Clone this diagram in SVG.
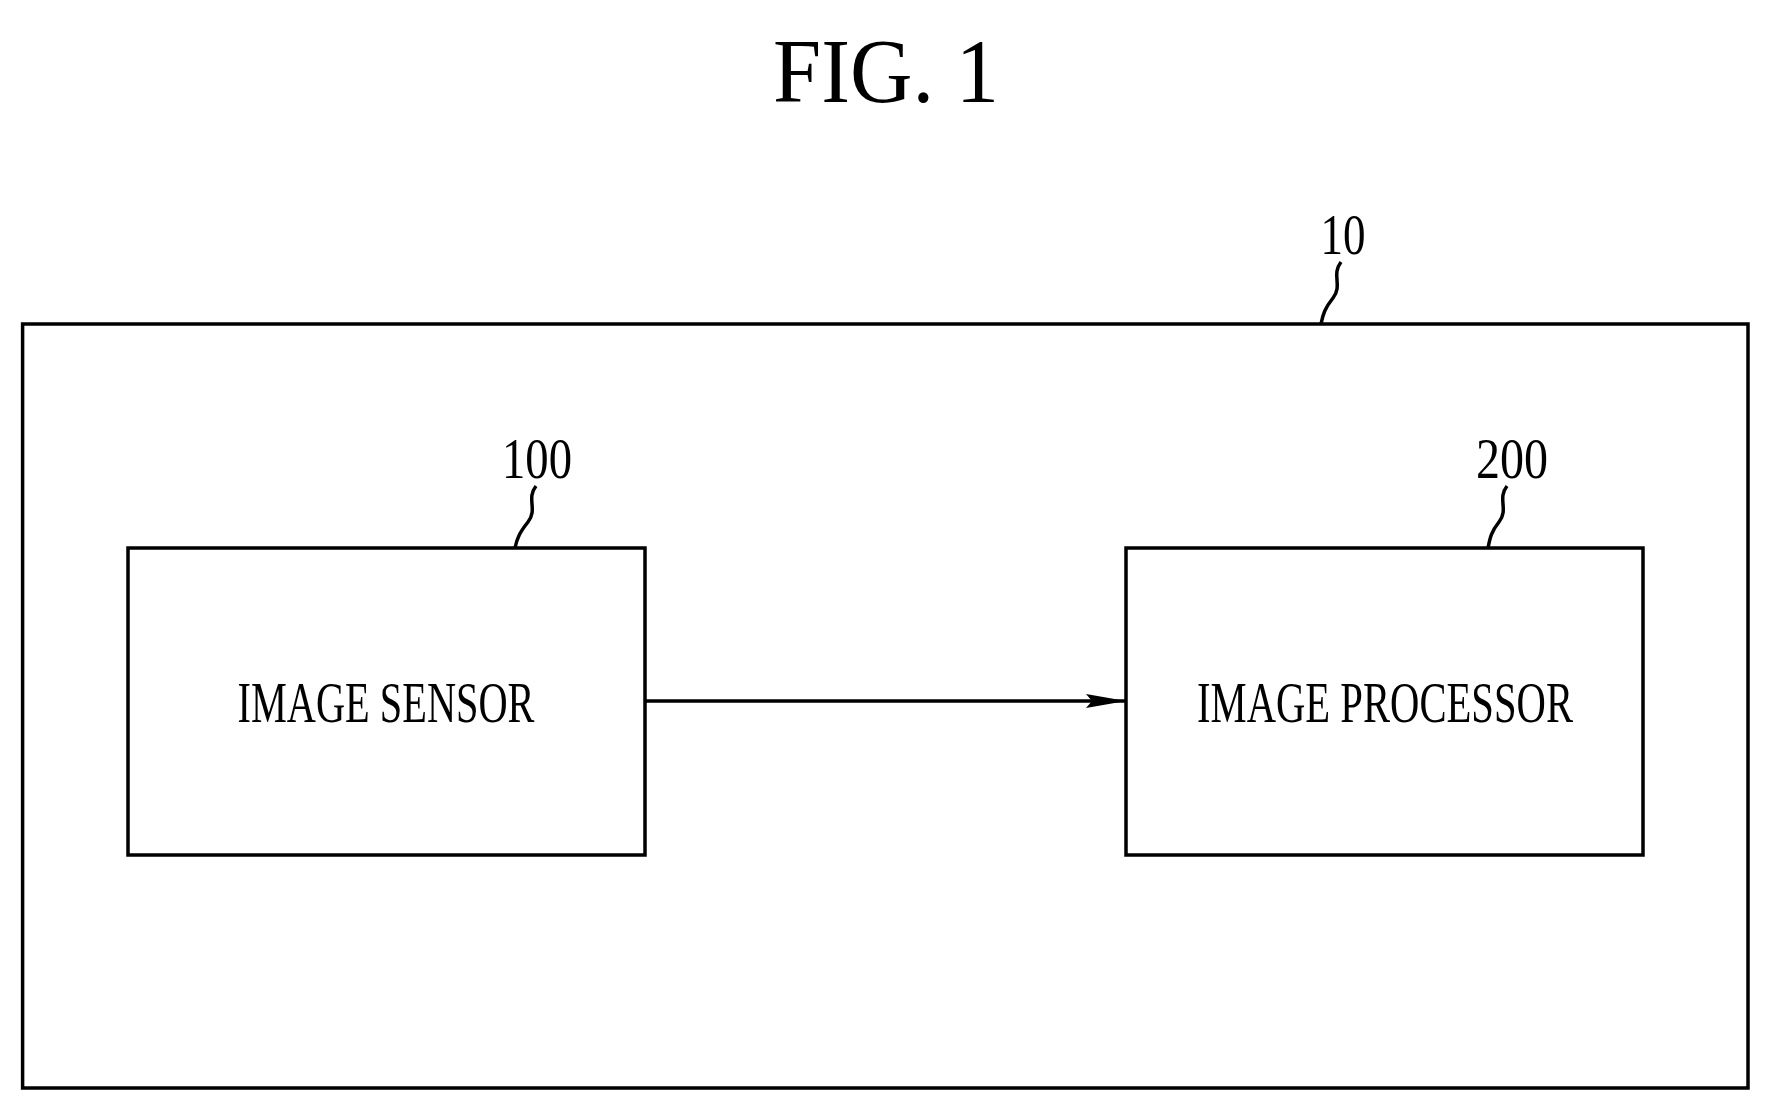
<svg xmlns="http://www.w3.org/2000/svg" width="1771" height="1111" viewBox="0 0 1771 1111">
<style>
.b{fill:none;stroke:#000;stroke-width:3.5}
.t{font-family:"Liberation Serif",serif;fill:#000}
</style>
<defs><marker id="a" markerWidth="12" markerHeight="8" refX="12" refY="4" orient="auto" markerUnits="userSpaceOnUse"><path d="M0,0 L12,4 L0,8 Z" transform="scale(3.3,1.3) translate(-8.4,-0.9)"/></marker>
<marker id="ah" viewBox="0 0 40 14" markerWidth="40" markerHeight="14" refX="40" refY="7" orient="auto" markerUnits="userSpaceOnUse"><path d="M0,0 L40,7 L0,14 L6,7 Z"/></marker></defs>
<rect width="1771" height="1111" fill="#fff"/>
<text class="t" x="886" y="102" font-size="92" text-anchor="middle" textLength="226" lengthAdjust="spacingAndGlyphs">FIG. 1</text>
<g id="system"><rect class="b" x="22.6" y="324" width="1725.4" height="764"/>
<text class="t" x="1343" y="254" font-size="56" text-anchor="middle" textLength="45" lengthAdjust="spacingAndGlyphs">10</text>
<path class="b" d="M1341,262 C1331,275 1343,285 1333,298 C1325,308 1323,314 1321,324"/></g>
<g id="sensor"><rect class="b" x="128" y="548" width="517" height="307"/>
<text class="t" x="386" y="722" font-size="58" text-anchor="middle" textLength="297" lengthAdjust="spacingAndGlyphs">IMAGE SENSOR</text>
<text class="t" x="537" y="478" font-size="56" text-anchor="middle" textLength="70" lengthAdjust="spacingAndGlyphs">100</text>
<path class="b" d="M536,486 C526,499 538,509 528,522 C520,532 517,538 515,548"/></g>
<g id="processor"><rect class="b" x="1126" y="548" width="517" height="307"/>
<text class="t" x="1385" y="722" font-size="58" text-anchor="middle" textLength="376" lengthAdjust="spacingAndGlyphs">IMAGE PROCESSOR</text>
<text class="t" x="1512" y="478" font-size="56" text-anchor="middle" textLength="72" lengthAdjust="spacingAndGlyphs">200</text>
<path class="b" d="M1507,486 C1497,499 1509,509 1499,522 C1491,532 1490,538 1488,548"/></g>
<g id="connectors"><line class="b" x1="645" y1="701" x2="1126" y2="701" marker-end="url(#ah)"/></g>
</svg>
